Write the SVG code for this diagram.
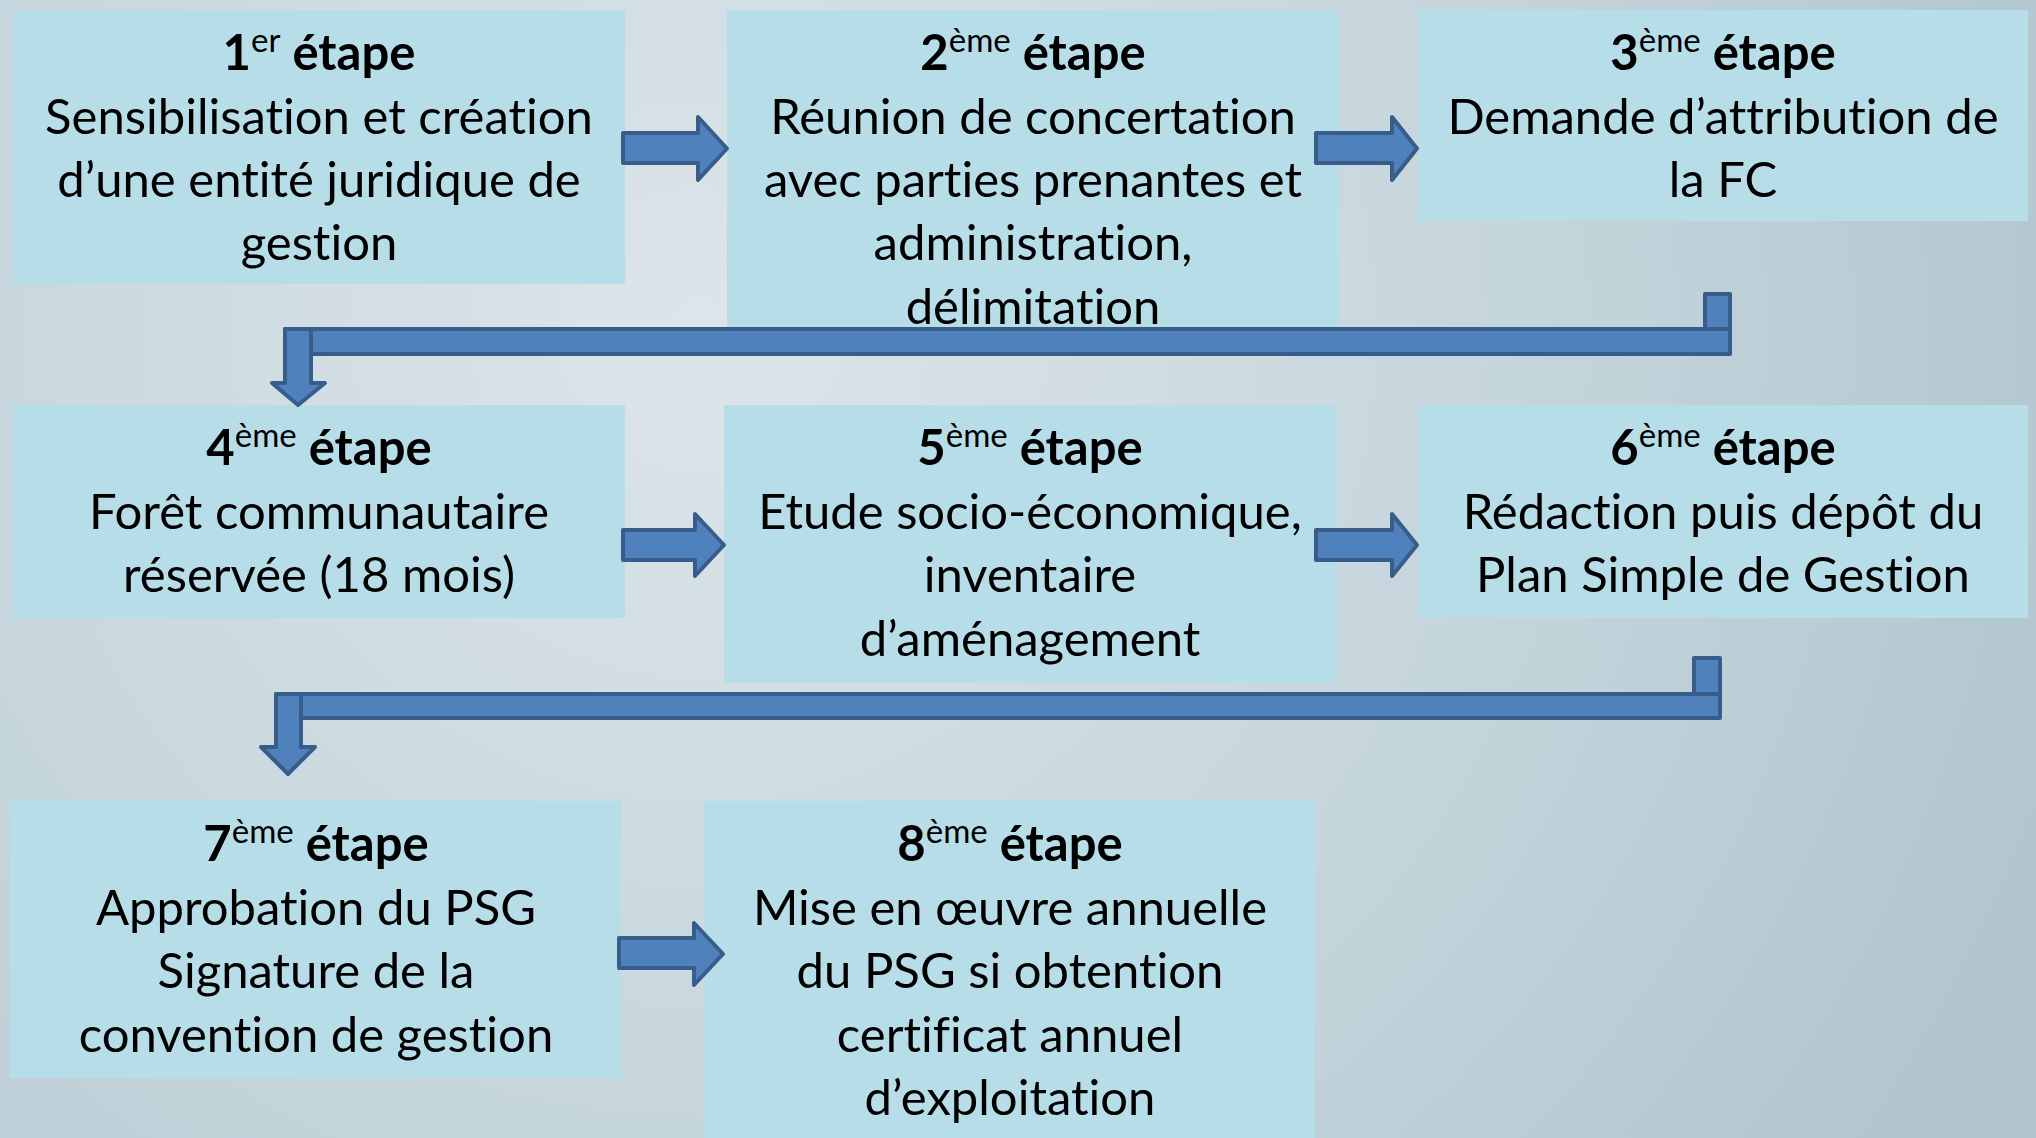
<svg xmlns="http://www.w3.org/2000/svg" width="2036" height="1138" viewBox="0 0 2036 1138">
<defs>
<radialGradient id="bg" cx="700" cy="330" r="1500" gradientUnits="userSpaceOnUse">
<stop offset="0" stop-color="#dce5ea"/>
<stop offset="0.55" stop-color="#c5d5dc"/>
<stop offset="1" stop-color="#afc4cd"/>
</radialGradient>
<style>
.box{fill:#b7dde8}
.arr{fill:#4f81bd;stroke:#385d8a;stroke-width:4;stroke-linejoin:round}
text{font-family:Lato,"Liberation Sans",sans-serif;font-size:49px;fill:#000;text-anchor:middle;font-variant-ligatures:none;font-feature-settings:"liga" 0,"clig" 0}
.t{font-weight:bold}
.sup{font-size:33px;font-weight:normal}
</style>
</defs>
<rect width="2036" height="1138" fill="url(#bg)"/>

<g id="step1">
<rect class="box" x="13" y="10" width="612" height="274"/>
<text x="319" y="70" class="t">1<tspan class="sup" dy="-18">er</tspan><tspan dy="18"> étape</tspan></text>
<text x="319" y="134">Sensibilisation et création</text>
<text x="319" y="197">d’une entité juridique de</text>
<text x="319" y="260">gestion</text>
</g>
<g id="step2">
<rect class="box" x="727" y="10" width="612" height="317"/>
<text x="1033" y="70" class="t">2<tspan class="sup" dy="-18">ème</tspan><tspan dy="18"> étape</tspan></text>
<text x="1033" y="134">Réunion de concertation</text>
<text x="1033" y="197">avec parties prenantes et</text>
<text x="1033" y="260">administration,</text>
<text x="1033" y="324">délimitation</text>
</g>
<g id="step3">
<rect class="box" x="1418" y="10" width="610" height="211"/>
<text x="1723" y="70" class="t">3<tspan class="sup" dy="-18">ème</tspan><tspan dy="18"> étape</tspan></text>
<text x="1723" y="134">Demande d’attribution de</text>
<text x="1723" y="197">la FC</text>
</g>
<g id="step4">
<rect class="box" x="13" y="405" width="612" height="213"/>
<text x="319" y="465" class="t">4<tspan class="sup" dy="-18">ème</tspan><tspan dy="18"> étape</tspan></text>
<text x="319" y="529">Forêt communautaire</text>
<text x="319" y="592">réservée (18 mois)</text>
</g>
<g id="step5">
<rect class="box" x="724" y="405" width="612" height="278"/>
<text x="1030" y="465" class="t">5<tspan class="sup" dy="-18">ème</tspan><tspan dy="18"> étape</tspan></text>
<text x="1030" y="529">Etude socio-économique,</text>
<text x="1030" y="592">inventaire</text>
<text x="1030" y="656">d’aménagement</text>
</g>
<g id="step6">
<rect class="box" x="1418" y="405" width="610" height="213"/>
<text x="1723" y="465" class="t">6<tspan class="sup" dy="-18">ème</tspan><tspan dy="18"> étape</tspan></text>
<text x="1723" y="529">Rédaction puis dépôt du</text>
<text x="1723" y="592">Plan Simple de Gestion</text>
</g>
<g id="step7">
<rect class="box" x="10" y="801" width="611" height="277"/>
<text x="316" y="861" class="t">7<tspan class="sup" dy="-18">ème</tspan><tspan dy="18"> étape</tspan></text>
<text x="316" y="925">Approbation du PSG</text>
<text x="316" y="988">Signature de la</text>
<text x="316" y="1052">convention de gestion</text>
</g>
<g id="step8">
<rect class="box" x="704" y="801" width="611" height="337"/>
<text x="1010" y="861" class="t">8<tspan class="sup" dy="-18">ème</tspan><tspan dy="18"> étape</tspan></text>
<text x="1010" y="925">Mise en œuvre annuelle</text>
<text x="1010" y="988">du PSG si obtention</text>
<text x="1010" y="1052">certificat annuel</text>
<text x="1010" y="1115">d’exploitation</text>
</g>

<g id="connectors">
<polygon class="arr" points="623,133 698,133 698,117 727,148.5 698,180 698,163 623,163"/>
<polygon class="arr" points="1316,133 1392,133 1392,117 1417,148.5 1392,180 1392,163 1316,163"/>
<rect class="arr" x="1705" y="294" width="25" height="50"/>
<rect class="arr" x="285" y="329" width="1445" height="25"/>
<polygon class="arr" points="285,329 311,329 311,383 325,383 298,405 272,383 285,383"/>
<polygon class="arr" points="623,530 695,530 695,514 724,545 695,576 695,560 623,560"/>
<polygon class="arr" points="1316,530 1392,530 1392,514 1417,545 1392,576 1392,560 1316,560"/>
<rect class="arr" x="1694" y="658" width="26" height="50"/>
<rect class="arr" x="276" y="694" width="1444" height="24"/>
<polygon class="arr" points="276,694 301,694 301,747 315,747 288,774 261,747 276,747"/>
<polygon class="arr" points="619,938 694,938 694,923 723,954 694,985 694,968 619,968"/>
</g>
</svg>
